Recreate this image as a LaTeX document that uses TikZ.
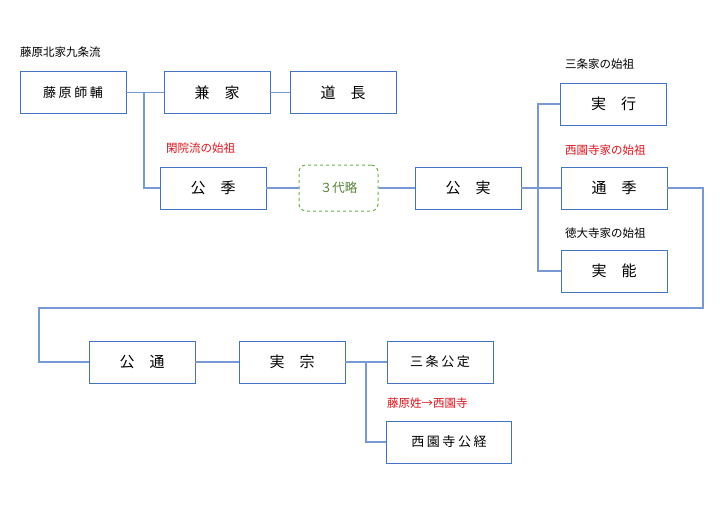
\documentclass[tikz,border=0pt]{standalone}
\usepackage{fontspec}
\setmainfont{Noto Sans CJK JP}
\newfontfamily\jpwide[LetterSpace=20]{Noto Sans CJK JP}
\usepackage{tikz}
\definecolor{boxblue}{RGB}{68,114,196}
\definecolor{lineblue}{RGB}{120,153,212}
\definecolor{notered}{RGB}{220,20,30}
\definecolor{skipgreen}{RGB}{112,173,71}
\definecolor{skiptext}{RGB}{84,130,53}
\tikzset{
    person/.style={draw=boxblue,line width=0.9pt,minimum width=106pt,minimum height=42pt,inner sep=0pt,font=\fontsize{15}{17}\selectfont},
    longname/.style={person,font=\jpwide\fontsize{13}{15}\selectfont},
    skipbox/.style={draw=skipgreen,dashed,line width=1pt,rounded corners=7pt,minimum width=79pt,minimum height=46pt,text=skiptext,font=\fontsize{12.5}{14}\selectfont},
    link/.style={draw=lineblue,line width=1.3pt},
    note/.style={anchor=west,inner sep=0pt,font=\fontsize{11.5}{13}\selectfont},
    rednote/.style={note,text=notered}
}

\begin{document}
\begin{tikzpicture}[x=1pt,y=-1pt]
	\useasboundingbox (0,0) rectangle (720,504);

	% first row
	\node[longname] (morosuke) at (73,92.5) {藤原師輔};
	\node[person] (kaneie) at (217,92.5) {兼　家};
	\node[person] (michinaga) at (343,92.5) {道　長};

	% kan'in line
	\node[person] (kinsue) at (213,188) {公　季};
	\node[skipbox] (ryaku) at (338.5,188) {３代略};
	\node[person] (kinzane) at (468,188) {公　実};
	\node[person] (saneyuki) at (613.5,104) {実　行};
	\node[person] (michisue) at (614,188) {通　季};
	\node[person] (saneyoshi) at (614,271) {実　能};

	% last row
	\node[person] (kinmichi) at (142,362) {公　通};
	\node[person] (sanemune) at (292,362) {実　宗};
	\node[longname] (kinsada) at (440,362) {三条公定};
	\node[longname,minimum width=125pt] (kintsune) at (449,442) {西園寺公経};

	% labels
	\node[note] (kujo) at (20,52) {藤原北家九条流};
	\node[rednote] (kaninso) at (166,148) {閑院流の始祖};
	\node[note] (sanjoso) at (565,64) {三条家の始祖};
	\node[rednote] (saionjiso) at (565,150) {西園寺家の始祖};
	\node[note] (tokudaijiso) at (565,233) {徳大寺家の始祖};
	\node[rednote] (kaisei) at (387,403) {藤原姓→西園寺};

	% connectors
	\coordinate (b1) at (144,92.5);
	\coordinate (b2) at (538,188);
	\coordinate (b3) at (366,362);
	\coordinate (turnA) at (703,308);
	\coordinate (turnB) at (39,308);

	\draw[link] (morosuke.east) -- (kaneie.west);
	\draw[link] (b1) |- (kinsue.west);
	\draw[link] (kaneie.east) -- (michinaga.west);
	\draw[link] (kinsue.east) -- (ryaku.west);
	\draw[link] (ryaku.east) -- (kinzane.west);
	\draw[link] (kinzane.east) -- (michisue.west);
	\draw[link] (b2) |- (saneyuki.west);
	\draw[link] (b2) |- (saneyoshi.west);
	\draw[link] (michisue.east) -| (turnA) -- (turnB) |- (kinmichi.west);
	\draw[link] (kinmichi.east) -- (sanemune.west);
	\draw[link] (sanemune.east) -- (kinsada.west);
	\draw[link] (b3) |- (kintsune.west);
\end{tikzpicture}
\end{document}
